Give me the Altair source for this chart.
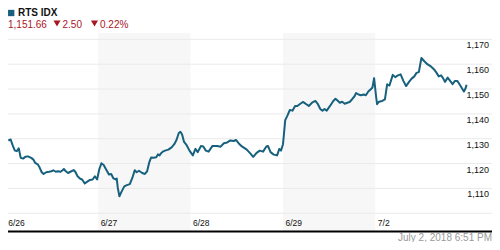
import altair as alt
import pandas as pd

# ---- data ----
times = [
    0.028, 0.053, 0.077, 0.099, 0.120, 0.141, 0.162, 0.187, 0.212, 0.240, 0.276, 0.297, 0.318, 0.346,
    0.367, 0.388, 0.409, 0.438, 0.470, 0.494, 0.515, 0.541, 0.565, 0.594, 0.615, 0.629, 0.650, 0.674,
    0.700, 0.735, 0.756, 0.777, 0.806, 0.827, 0.855, 0.883, 0.912, 0.940, 0.965, 0.989,
    1.011, 1.035, 1.060, 1.088, 1.117, 1.141, 1.166, 1.188, 1.201, 1.212, 1.230, 1.251, 1.283, 1.311,
    1.343, 1.371, 1.396, 1.417, 1.442, 1.477, 1.506, 1.530, 1.555, 1.573, 1.601, 1.629, 1.647, 1.665,
    1.682, 1.700, 1.724, 1.760, 1.795, 1.824, 1.848, 1.873, 1.891, 1.909, 1.930, 1.958,
    1.989, 2.025, 2.053, 2.078, 2.113, 2.138, 2.166, 2.195, 2.238, 2.290, 2.326, 2.361, 2.397, 2.431,
    2.467, 2.492, 2.520, 2.556, 2.609, 2.644, 2.679, 2.715, 2.750, 2.785, 2.821, 2.838, 2.866, 2.901,
    2.937, 2.961, 2.979, 3.001,
    3.025, 3.050, 3.075, 3.103, 3.132, 3.156, 3.181, 3.216, 3.245, 3.280, 3.315, 3.351, 3.379, 3.404,
    3.428, 3.450, 3.474, 3.510, 3.545, 3.569, 3.591, 3.616, 3.641, 3.669, 3.697, 3.722, 3.747, 3.775,
    3.792, 3.818, 3.845, 3.874, 3.898, 3.924, 3.951, 3.969, 3.987, 4.008, 4.019,
    4.040, 4.075, 4.104, 4.128, 4.153, 4.189, 4.216, 4.245, 4.274, 4.305, 4.333, 4.365, 4.393, 4.422,
    4.446, 4.471, 4.499, 4.528, 4.563, 4.605, 4.634, 4.658, 4.687, 4.712, 4.733, 4.754, 4.783, 4.810,
    4.836, 4.860, 4.889, 4.906, 4.931, 4.959, 4.977, 4.988,
]
values = [
    1129.3, 1129.7, 1127.1, 1125.2, 1125.0, 1126.1, 1122.3, 1122.0, 1122.7, 1122.9, 1122.3, 1121.7, 1120.3, 1119.7,
    1118.4, 1116.6, 1115.8, 1116.5, 1116.7, 1116.9, 1117.3, 1116.7, 1116.9, 1116.7, 1117.3, 1117.8, 1116.9, 1116.2,
    1116.7, 1117.4, 1116.5, 1114.9, 1113.9, 1113.6, 1112.0, 1112.7, 1113.4, 1113.6, 1114.9, 1113.6,
    1117.5, 1120.1, 1119.4, 1117.5, 1115.6, 1115.8, 1114.0, 1113.6, 1114.0, 1110.4, 1106.8, 1108.5, 1110.8, 1111.3,
    1111.7, 1114.3, 1117.3, 1116.5, 1117.1, 1116.2, 1115.8, 1116.9, 1120.7, 1122.4, 1122.3, 1122.5, 1123.7, 1123.3,
    1124.2, 1124.8, 1125.2, 1125.6, 1126.5, 1127.8, 1129.5, 1132.3, 1132.8, 1131.7, 1128.7, 1127.4,
    1125.2, 1123.3, 1125.9, 1124.6, 1127.1, 1126.9, 1125.2, 1124.8, 1127.1, 1127.1, 1126.8, 1128.2, 1128.5, 1129.3,
    1129.1, 1129.5, 1128.2, 1126.9, 1125.6, 1124.2, 1122.7, 1124.3, 1125.2, 1124.8, 1126.9, 1127.1, 1124.6, 1123.6,
    1123.3, 1125.9, 1125.2, 1127.8,
    1137.5, 1139.4, 1141.6, 1141.3, 1143.2, 1143.2, 1143.9, 1144.8, 1144.1, 1143.2, 1144.5, 1145.2, 1143.9, 1142.0,
    1141.3, 1142.0, 1141.3, 1143.2, 1145.2, 1146.1, 1145.4, 1144.5, 1144.9, 1144.1, 1144.5, 1144.8, 1145.8, 1147.1,
    1148.4, 1147.8, 1147.5, 1147.8, 1147.5, 1149.0, 1149.9, 1150.6, 1154.4, 1147.1, 1143.9,
    1144.9, 1145.2, 1145.8, 1151.9, 1151.4, 1155.7, 1154.8, 1155.5, 1155.9, 1153.2, 1151.2, 1152.9, 1154.2, 1155.1,
    1156.5, 1156.8, 1162.5, 1161.3, 1160.0, 1159.0, 1158.0, 1156.8, 1155.1, 1155.5, 1154.4, 1152.9, 1154.6, 1153.3,
    1152.0, 1153.2, 1153.2, 1152.2, 1150.7, 1149.0, 1150.3, 1151.7,
]

day_labels = ["6/26", "6/27", "6/28", "6/29", "7/2"]
day_starts = [0, 1, 2, 3, 4]
shaded_days = [1, 3]
grid_values = [1100, 1110, 1120, 1130, 1140, 1150, 1160, 1170]
tick_values = [1110, 1120, 1130, 1140, 1150, 1160, 1170]
tick_labels = ["1,110", "1,120", "1,130", "1,140", "1,150", "1,160", "1,170"]

index_name = "RTS IDX"
last_value = "1,151.66"
change_value = "2.50"
change_pct = "0.22%"
timestamp = "July 2, 2018 6:51 PM"

# ---- scale extents ----
X_MIN, X_MAX = 0.0244, 5.263
Y_MIN, Y_MAX = 1088.42, 1182.63
PLOT_TOP, PLOT_BOTTOM = 1172.6, 1092.66
DATE_LABEL_V = 1095.9
TICK_LABEL_T = 5.231

LINE_COLOR = "#17617f"
RED = "#a8171f"
FONT = "Liberation Sans"

xs = alt.Scale(domain=[X_MIN, X_MAX], nice=False, zero=False)
ys = alt.Scale(domain=[Y_MIN, Y_MAX], nice=False, zero=False)


def X(field):
    return alt.X(field, type="quantitative", scale=xs, axis=None)


def Y(field):
    return alt.Y(field, type="quantitative", scale=ys, axis=None)


line_df = pd.DataFrame({"t": times, "v": values})
band_df = pd.DataFrame({
    "start": shaded_days,
    "end": [d + 1 for d in shaded_days],
    "top": [PLOT_TOP] * len(shaded_days),
    "bottom": [PLOT_BOTTOM] * len(shaded_days),
})
grid_df = pd.DataFrame({"g": grid_values})
tick_df = pd.DataFrame({"g": tick_values, "label": tick_labels,
                        "t": [TICK_LABEL_T] * len(tick_values)})
date_df = pd.DataFrame({"t": day_starts, "label": day_labels,
                        "v": [DATE_LABEL_V] * len(day_starts)})
axis_df = pd.DataFrame({"v": [PLOT_BOTTOM]})

bands = alt.Chart(band_df).mark_rect(color="#f7f7f7").encode(
    x=X("start"), x2="end", y=Y("bottom"), y2="top")
grid = alt.Chart(grid_df).mark_rule(color="#eaeaea", strokeWidth=1).encode(y=Y("g"))
axis_line = alt.Chart(axis_df).mark_rule(color="#000000", strokeWidth=2).encode(y=Y("v"))
line = alt.Chart(line_df).mark_line(color=LINE_COLOR, strokeWidth=2,
                                    strokeJoin="round").encode(x=X("t"), y=Y("v"))
ticks = alt.Chart(tick_df).mark_text(align="right", baseline="top", dy=2, fontSize=9,
                                     font=FONT, color="#111111").encode(
    x=X("t"), y=Y("g"), text="label")
dates = alt.Chart(date_df).mark_text(align="left", baseline="middle", dx=2.5, fontSize=8.5,
                                     font=FONT, color="#111111").encode(
    x=X("t"), y=Y("v"), text="label")

hdr = pd.DataFrame({"name": [index_name], "last": [last_value],
                    "chg": [change_value], "pct": [change_pct], "ts": [timestamp]})
base = alt.Chart(hdr)
square = base.mark_square(color=LINE_COLOR, size=40, opacity=1).encode(
    x=alt.value(3.2), y=alt.value(5))
name_t = base.mark_text(align="left", baseline="middle", fontSize=10, fontWeight="bold",
                        font=FONT, color="#111111").encode(
    x=alt.value(10), y=alt.value(5), text="name")
last_t = base.mark_text(align="left", baseline="middle", fontSize=10, font=FONT,
                        color=RED).encode(x=alt.value(0), y=alt.value(16.5), text="last")
tri1 = base.mark_point(shape="triangle-down", filled=True, size=50, color=RED,
                       opacity=1).encode(x=alt.value(49), y=alt.value(15.5))
chg_t = base.mark_text(align="left", baseline="middle", fontSize=10, font=FONT,
                       color=RED).encode(x=alt.value(54.5), y=alt.value(16.5), text="chg")
tri2 = base.mark_point(shape="triangle-down", filled=True, size=50, color=RED,
                       opacity=1).encode(x=alt.value(86.5), y=alt.value(15.5))
pct_t = base.mark_text(align="left", baseline="middle", fontSize=10, font=FONT,
                       color=RED).encode(x=alt.value(92), y=alt.value(16.5), text="pct")
foot = base.mark_text(align="right", baseline="middle", fontSize=10, font=FONT,
                      color="#999999").encode(x=alt.value(484), y=alt.value(230), text="ts")

chart = alt.layer(
    bands, grid, axis_line, line, ticks, dates,
    square, name_t, last_t, tri1, chg_t, tri2, pct_t, foot,
).properties(
    width=484, height=234, padding=0,
    autosize=alt.AutoSizeParams(type="none"),
).configure_view(stroke=None)

chart.save("out.html", embed_options={"renderer": "svg", "actions": False})
